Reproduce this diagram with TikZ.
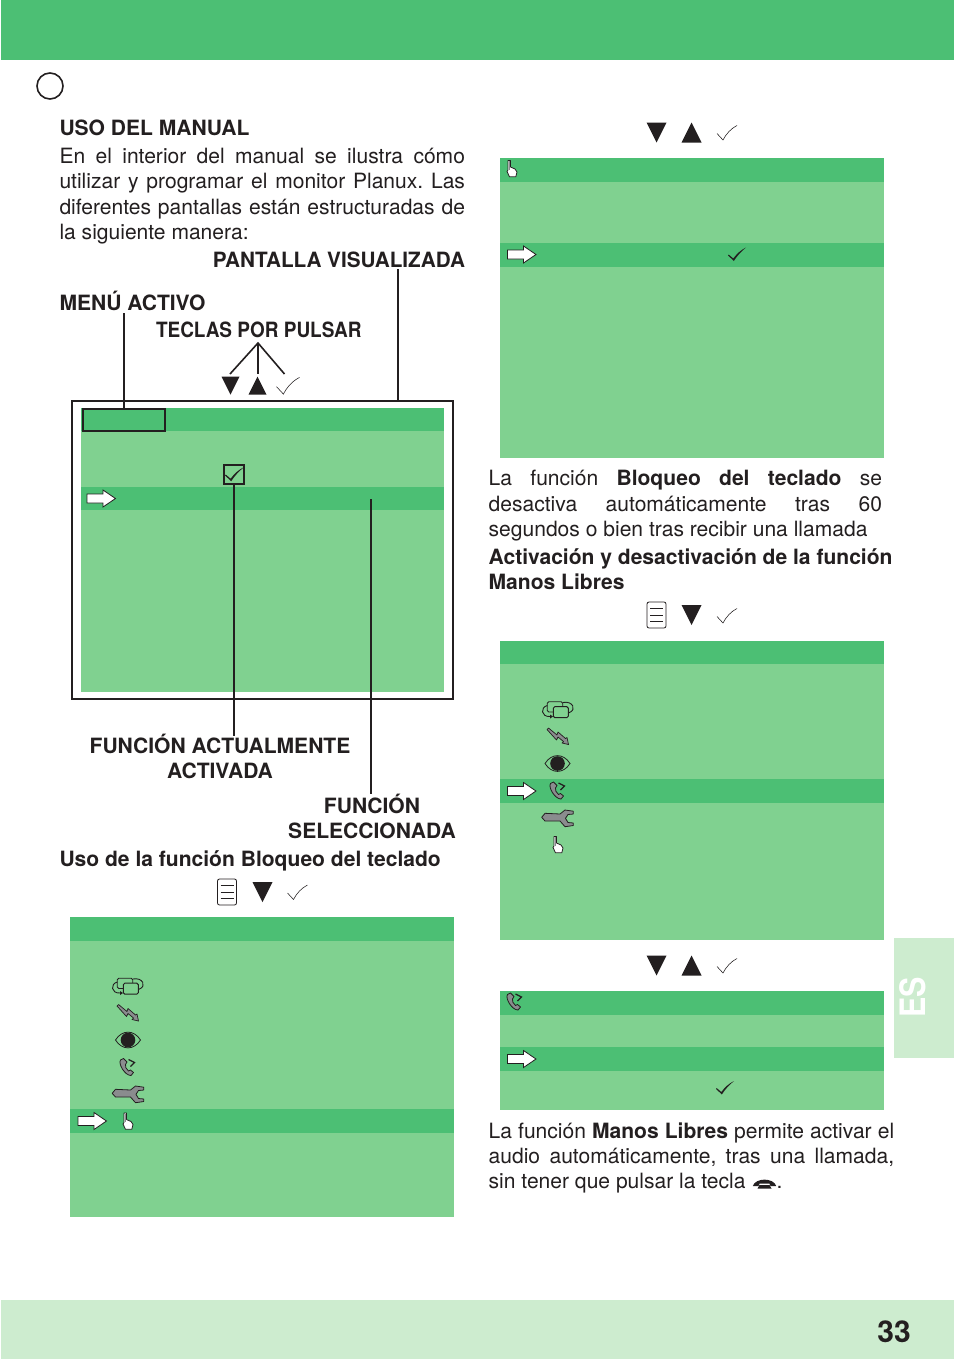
\documentclass[tikz,border=0pt]{standalone}
\usepackage{fontspec}
\usepackage{graphicx}
\setmainfont{TeX Gyre Heros}
\frenchspacing
\definecolor{gd}{HTML}{4CBF74}
\definecolor{gl}{HTML}{80D190}
\definecolor{gp}{HTML}{CDECCF}
\definecolor{ink}{HTML}{231F20}
\definecolor{midgray}{HTML}{8A8C8E}
\newcommand{\just}[2]{\makebox[#1pt][s]{#2}}
\tikzset{
  x=1pt,y=-1pt,
  txt/.style={anchor=base west,inner sep=0pt,outer sep=0pt,text=ink,font=\fontsize{21.05}{25}\selectfont},
  btxt/.style={txt,font=\fontsize{21.05}{25}\selectfont\bfseries},
  btxtc/.style={btxt,anchor=base},
  btxtr/.style={btxt,anchor=base east},
  ln/.style={draw=ink,line width=1.6pt},
  pics/arrowicon/.style={code={
    \draw[fill=white,draw=ink,line width=.8pt,line join=miter]
      (-14,-4.5)--(2,-4.5)--(2,-8.5)--(14.5,0)--(2,8.5)--(2,4.5)--(-14,4.5)--cycle;}},
  pics/tdown/.style={code={\fill[ink] (-10,-10)--(10,-10)--(0,10)--cycle;}},
  pics/tup/.style={code={\fill[ink] (-10,10)--(10,10)--(0,-10)--cycle;}},
  pics/thincheck/.style={code={\draw[ink,line width=.55pt] (-10,1)--(-4,7.5) .. controls (-1,1.5) and (4,-4) .. (10,-7);}},
  pics/darkcheck/.style={code={\fill[ink] (-9,.8)--(-8.3,.1)--(-3.7,4) .. controls (0,-1) and (4,-4.5) .. (9,-7) .. controls (4,-3) and (0,1.5) .. (-3.2,6.5)--cycle;}},
  pics/docicon/.style={code={
    \draw[ink,fill=white,line width=.8pt,rounded corners=2pt] (-9.5,-13)rectangle(9.5,13);
    \foreach \q in {-6.5,0,6.5}{\draw[ink,line width=.7pt] (-6.5,\q)--(6.5,\q);}}},
  pics/cycleicon/.style={code={
    \draw[ink,line width=.8pt,fill=gl,rounded corners=1.5pt] (-10.7,-7.8)rectangle(4.7,2.5);
    \draw[ink,line width=1pt,fill=gl,rounded corners=1.5pt] (-4.7,-2.8)rectangle(10.3,8.2);
    \draw[ink,line width=.9pt] (-10.7,-4) .. controls (-18,-2) and (-17,7.5) .. (-8,7);
    \fill[ink] (-8,5) -- (-5,7) -- (-8,9) -- cycle;
    \draw[ink,line width=.9pt] (5,-7) .. controls (14,-9) and (20,0) .. (10.5,3.5);}},
  pics/bolticon/.style={code={
    \draw[ink,fill=midgray,line width=.7pt,line join=round] (-9.5,-9)--(-1,-2)--(0,-5)--(7.5,1.5)--(9,.5)--(10.5,7.5)--(4,6)--(5.5,4.5)--(0,0)--(-1.5,3)--(-11,-7.5)--cycle;}},
  pics/eyeicon/.style={code={
    \draw[ink,line width=.8pt,fill=gl] (-12.5,0) .. controls (-6,-10.5) and (6,-10.5) .. (12.5,0) .. controls (6,10.5) and (-6,10.5) .. (-12.5,0)--cycle;
    \fill[ink] (0,0) circle (7.3);}},
  pics/phoneicon/.style={code={
    \draw[ink,fill=midgray,line width=.8pt,line join=round] (-7.5,-7) .. controls (-10,-3) and (-3,8.5) .. (3,8.5)
      -- (5.5,5.5) -- (2.5,3) -- (.5,4) .. controls (-2,2) and (-3,-.5) .. (-2.5,-2.5) -- (-1,-5) -- (-4.5,-8.5) -- cycle;
    \draw[ink,line width=1.2pt] (0.5,-7.5)--(6.5,-4.5)--(2.5,-.5);}},
  pics/wrenchicon/.style={code={
    \draw[ink,fill=midgray,line width=.8pt,line join=round] (-16.3,-.7)--(-13,-4.7)--(2,-4)--(7,-8)--(15.3,-6.8)--(15.3,-4)--(10,-3.5)--(7.5,.3)--(10,4.5)--(15.3,5)--(15.3,7.5)--(7,8.7)--(2,3)--(-13,3)--cycle;}},
  pics/handicon/.style={code={
    \draw[ink,fill=white,line width=.8pt,line join=round] (-4,-9.5)--(-1.5,-9.5)--(-1.5,-3)--(3,-1)--(5,2)--(3.8,6.8)--(-2.5,6.8)--(-5,1.5)--(-4,0)--cycle;
    \fill[midgray] (-3.5,-9) rectangle (-2,-.5);}},
  pics/keyicon/.style={code={
    \fill[ink] (-11.7,2) .. controls (-9,-6.5) and (9,-6.5) .. (11.7,2) -- (6,2) -- (5,-.3) -- (-5,-.3) -- (-6,2) -- cycle;
    \fill[ink] (-5,1) -- (5,1) -- (7,4.5) -- (-7,4.5) -- cycle;}},
}
\begin{document}
\begin{tikzpicture}
\useasboundingbox (0,0) rectangle (954,1360);
\fill[white] (0,0) rectangle (954,1360);
% page furniture
\fill[gd] (1,0) rectangle (954,60);
\fill[gp] (1,1300) rectangle (954,1359);
\fill[gp] (894,938) rectangle (954,1058);
\draw[ink,line width=1.6pt] (50,86) circle (13);
\node[rotate=90,anchor=center,inner sep=0pt,text=white,font=\fontsize{35}{35}\selectfont\bfseries] (es) at (912.5,997) {\scalebox{.87}[1]{ES}};
\node[btxt,anchor=base,font=\fontsize{30}{30}\selectfont\bfseries] (pagenum) at (894,1342) {33};
% left column text
\node[btxt] (t1) at (59.5,135) {USO DEL MANUAL};
\node[txt] (t2) at (59.5,163) {\just{405.5}{En el interior del manual se ilustra cómo}};
\node[txt] (t3) at (59.5,188) {\just{405.5}{utilizar y programar el monitor Planux. Las}};
\node[txt] (t4) at (59.5,214) {\just{405.5}{diferentes pantallas están estructuradas de}};
\node[txt] (t5) at (59.5,239) {la siguiente manera:};
\node[btxtr] (pant) at (465,267) {\scalebox{.984}[1]{PANTALLA VISUALIZADA}};
\node[btxt] (menu) at (59.5,310) {MENÚ ACTIVO};
\node[btxt] (tecl) at (156,337) {\scalebox{.902}[1]{TECLAS POR PULSAR}};
% screen 1
\node[draw=ink,line width=2pt,minimum width=381pt,minimum height=298pt,inner sep=0pt] (frame) at (262,550) {};
\fill[gl] (81,408) rectangle (444,692);
\fill[gd] (81,408) rectangle (444,431);
\fill[gd] (81,487) rectangle (444,510);
\node[draw=ink,line width=1.6pt,minimum width=82pt,minimum height=22.5pt,inner sep=0pt] (menubox) at (124,420) {};
\node[draw=ink,line width=1.6pt,minimum width=20.5pt,minimum height=19.5pt,inner sep=0pt] (chk) at (234,474.5) {};
\pic[scale=1.05] at (234.5,474.5) {darkcheck};
\pic at (101,498.5) {arrowicon};
\pic[scale=.9] at (230.5,385.7) {tdown};
\pic[scale=.9] at (257.5,385.7) {tup};
\pic[scale=1.15] at (288,385.5) {thincheck};
\coordinate (menuTop) at (124,313);
\coordinate (pantTop) at (398,269);
\coordinate (apex) at (258,343);
\coordinate (kDown) at (230,374);
\coordinate (kUp) at (258,374);
\coordinate (kOk) at (284.5,374);
\coordinate (chkEnd) at (234,736);
\coordinate (selTop) at (371,499);
\coordinate (selEnd) at (371,794);
\draw[ln] (menuTop) -- (menubox.north -| menuTop);
\draw[ln] (pantTop) -- (frame.north -| pantTop);
\draw[ln] (kDown) -- (apex) -- (kOk);
\draw[ln] (apex) -- (kUp);
\draw[ln] (chk.south) -- (chkEnd);
\draw[ln] (selTop) -- (selEnd);
\node[btxtc] (fa1) at (220,753) {FUNCIÓN ACTUALMENTE};
\node[btxtc] (fa2) at (220,778) {ACTIVADA};
\node[btxtc] (fs1) at (372,813) {FUNCIÓN};
\node[btxtc] (fs2) at (372,838) {SELECCIONADA};
\node[btxt] (uso) at (59.5,866) {Uso de la función Bloqueo del teclado};
% screen 2
\pic at (227,892) {docicon};
\pic at (262.5,892) {tdown};
\pic at (297.5,892) {thincheck};
\fill[gl] (70,917) rectangle (454,1217);
\fill[gd] (70,917) rectangle (454,941);
\fill[gd] (70,1109) rectangle (454,1133);
\pic at (128,986) {cycleicon};
\pic at (128,1013.5) {bolticon};
\pic at (128,1040) {eyeicon};
\pic at (128,1067) {phoneicon};
\pic at (128.5,1094) {wrenchicon};
\pic at (128,1122.5) {handicon};
\pic at (92,1121) {arrowicon};
% screen 3
\pic at (656.5,132.5) {tdown};
\pic at (691.5,132.5) {tup};
\pic at (727,132.5) {thincheck};
\fill[gl] (500,158) rectangle (884,458);
\fill[gd] (500,158) rectangle (884,182);
\fill[gd] (500,243) rectangle (884,267);
\pic at (512,170) {handicon};
\pic at (521.5,254.5) {arrowicon};
\pic at (737,254.5) {darkcheck};
% right column text
\node[txt] (r1) at (488.7,485) {\just{393.3}{La función \textbf{Bloqueo del teclado} se}};
\node[txt] (r2) at (488.7,511) {\just{393.3}{desactiva automáticamente tras 60}};
\node[txt] (r3) at (488.7,536) {segundos o bien tras recibir una llamada};
\node[btxt] (r4) at (488.7,564) {Activación y desactivación de la función};
\node[btxt] (r5) at (488.7,589) {Manos Libres};
% screen 4
\pic at (656.5,615) {docicon};
\pic at (691.5,615) {tdown};
\pic at (727,615.5) {thincheck};
\fill[gl] (500,641) rectangle (884,940);
\fill[gd] (500,641) rectangle (884,664);
\fill[gd] (500,779) rectangle (884,803);
\pic at (558,709.5) {cycleicon};
\pic at (558,737) {bolticon};
\pic at (557.5,763.5) {eyeicon};
\pic at (558,790.5) {phoneicon};
\pic at (558,818) {wrenchicon};
\pic at (558,846) {handicon};
\pic at (521.5,791) {arrowicon};
% screen 5
\pic at (656.5,965.5) {tdown};
\pic at (691.5,965.5) {tup};
\pic at (727,965.5) {thincheck};
\fill[gl] (500,991) rectangle (884,1110);
\fill[gd] (500,991) rectangle (884,1015);
\fill[gd] (500,1047) rectangle (884,1071);
\pic at (515,1001.5) {phoneicon};
\pic at (521.5,1059) {arrowicon};
\pic at (725,1088) {darkcheck};
\node[txt] (m1) at (488.7,1138) {\just{405.5}{La función \textbf{Manos Libres} permite activar el}};
\node[txt] (m2) at (488.7,1163) {\just{405.5}{audio automáticamente, tras una llamada,}};
\node[txt] (m3) at (488.7,1188) {sin tener que pulsar la tecla};
\pic at (764.5,1184) {keyicon};
\node[txt] (m4) at (776.5,1188) {.};
\end{tikzpicture}
\end{document}
